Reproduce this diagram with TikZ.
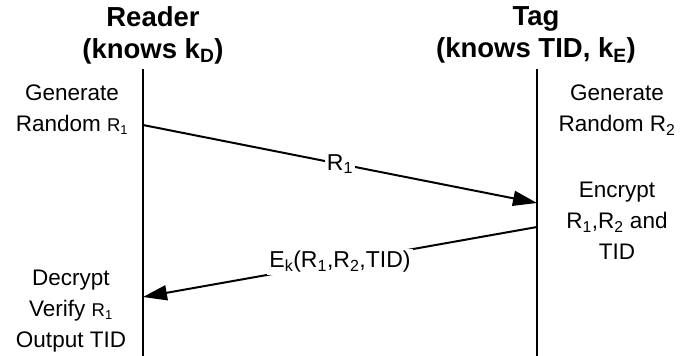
\documentclass[tikz,border=0pt]{standalone}
\usepackage{fontspec}
\setmainfont{Liberation Sans}
\usetikzlibrary{arrows.meta}
\begin{document}
\begin{tikzpicture}[x=1pt,y=-1pt,
  title/.style={font=\fontsize{27.5}{32}\selectfont\bfseries, align=center, inner sep=0pt},
  txt/.style={font=\fontsize{22.5}{31}\selectfont, align=center, inner sep=0pt},
  life/.style={line width=1.3pt},
  msg/.style={line width=2pt, -{Triangle[length=24pt,width=15pt]}},
  lbl/.style={font=\fontsize{23}{28}\selectfont, fill=white, inner sep=2pt}]
\useasboundingbox (0,0) rectangle (696,356);
% titles
\node[title] (rtitle) at (153,35) {Reader\\(knows k\textsubscript{D})};
\node[title] (ttitle) at (536,35) {Tag\\(knows TID, k\textsubscript{E})};
% lifelines
\coordinate (rtop) at (143,69);
\coordinate (rbot) at (143,356);
\coordinate (ttop) at (537,69);
\coordinate (tbot) at (537,356);
\draw[life] (rtop) -- (rbot);
\draw[life] (ttop) -- (tbot);
% side texts
\node[txt] (rgen) at (72,110) {Generate\\Random {\fontsize{18.5}{20}\selectfont R\textsubscript{1}}};
\node[txt] (tgen) at (617,110) {Generate\\Random R\textsubscript{2}};
\node[txt] (tenc) at (617,221) {Encrypt\\R\textsubscript{1},R\textsubscript{2} and\\TID};
\node[txt] (rdec) at (71,311) {Decrypt\\Verify {\fontsize{18.5}{20}\selectfont R\textsubscript{1}}\\Output TID};
% messages
\coordinate (m1s) at (143,125);
\coordinate (m1e) at (537,203);
\coordinate (m2s) at (537,227);
\coordinate (m2e) at (143,297);
\draw[msg] (m1s) -- node[lbl] (m1l) {R\textsubscript{1}} (m1e);
\draw[msg] (m2s) -- node[lbl] (m2l) {E\textsubscript{k}(R\textsubscript{1},R\textsubscript{2},TID)} (m2e);
\end{tikzpicture}
\end{document}
